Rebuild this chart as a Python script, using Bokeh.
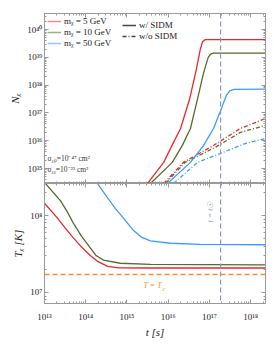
import numpy as np
from bokeh.plotting import figure
from bokeh.layouts import column
from bokeh.models import (FixedTicker, CustomJSTickFormatter, Legend, LegendItem,
                          Span, Label, Range1d, LogAxis)
from bokeh.embed import file_html
from bokeh.resources import INLINE

# ---------------- data (log10 values) ----------------
# Top panel: number of captured DM particles N_chi vs t
lt_red_sidm = [15.50, 15.89, 16.10, 16.30, 16.52, 16.68, 16.78, 16.83, 16.90, 18.36]
lN_red_sidm = [34.46, 35.22, 35.85, 36.44, 37.50, 38.55, 39.30, 39.55, 39.64, 39.64]
lt_grn_sidm = [15.57, 16.10, 16.35, 16.54, 16.71, 16.86, 16.97, 17.03, 17.10, 18.36]
lN_grn_sidm = [34.46, 35.22, 35.85, 36.44, 37.50, 38.45, 39.00, 39.12, 39.15, 39.15]
lt_blu_sidm = [15.98, 16.54, 16.86, 17.10, 17.30, 17.41, 17.50, 17.60, 18.36]
lN_blu_sidm = [34.46, 35.22, 35.83, 36.44, 37.20, 37.63, 37.80, 37.85, 37.86]

lt_red_nos = [15.89, 16.37, 17.10, 17.75, 18.36]
lN_red_nos = [34.46, 35.22, 35.83, 36.44, 36.80]
lt_grn_nos = [15.93, 16.41, 17.14, 17.75, 18.36]
lN_grn_nos = [34.46, 35.22, 35.76, 36.30, 36.55]
lt_blu_nos = [16.13, 16.71, 17.26, 17.87, 18.36]
lN_blu_nos = [34.46, 35.22, 35.54, 35.90, 36.08]

# Bottom panel: DM temperature T_chi vs t
lt_red_T = [13.00, 13.31, 13.50, 13.70, 13.90, 14.11, 14.30, 14.53, 14.80, 15.57, 18.36]
lT_red_T = [8.16, 7.97, 7.84, 7.71, 7.59, 7.48, 7.40, 7.34, 7.32, 7.318, 7.318]
lt_grn_T = [13.00, 13.39, 13.55, 13.70, 13.90, 14.11, 14.25, 14.43, 14.84, 15.57, 18.36]
lT_grn_T = [8.43, 8.19, 8.05, 7.90, 7.73, 7.58, 7.48, 7.42, 7.38, 7.365, 7.36]
lt_blu_T = [14.25, 14.28, 14.53, 14.72, 14.91, 15.15, 15.35, 15.57, 16.05, 16.78, 18.36]
lT_blu_T = [8.45, 8.42, 8.23, 8.09, 7.97, 7.81, 7.72, 7.67, 7.64, 7.625, 7.62]

t_sun = 10 ** 17.27      # t = t_sun
T_c = 10 ** 7.234        # T = T_c

masses = ["5", "10", "50"]
colors = ["#e8282c", "#566b2c", "#3b9cff"]
ORANGE = "#ff8a2a"
SPANC = "#8e99ad"
AXC = "#9a9a9a"
SERIF = "Liberation Serif"

X0, X1 = 1e13, 10 ** 18.36


def sup_fmt():
    return CustomJSTickFormatter(code="""
const m = {'0':'\u2070','1':'\u00b9','2':'\u00b2','3':'\u00b3','4':'\u2074','5':'\u2075','6':'\u2076','7':'\u2077','8':'\u2078','9':'\u2079','-':'\u207b'};
const e = Math.round(Math.log10(tick));
return '10' + String(e).split('').map(c => m[c]).join('');
""")


def blank_fmt():
    return CustomJSTickFormatter(code="return '';")


def log_ticker(lo, hi):
    major = [10.0 ** k for k in range(lo, hi + 1)]
    minor = [m * 10.0 ** k for k in range(lo - 1, hi + 1) for m in range(2, 10)]
    return FixedTicker(ticks=major, minor_ticks=minor)


def style_axis(ax, labels=True):
    ax.axis_line_color = AXC
    ax.major_tick_line_color = AXC
    ax.minor_tick_line_color = AXC
    ax.major_tick_in = 4
    ax.major_tick_out = 0
    ax.minor_tick_in = 2
    ax.minor_tick_out = 0
    ax.major_label_text_font = SERIF
    ax.major_label_text_font_size = "9px"
    ax.major_label_text_color = "#222222"
    ax.major_label_standoff = 2
    ax.axis_label_text_font = SERIF
    ax.axis_label_text_font_size = "11px"
    ax.axis_label_text_font_style = "italic"
    ax.axis_label_text_color = "#222222"
    if not labels:
        ax.formatter = blank_fmt()
        ax.major_label_standoff = 0


def make_fig(ylo, yhi, fh, ytk, xlabels, ylabel, xlabel, mb_bottom, mb_top):
    p = figure(frame_width=221, frame_height=fh, x_axis_type="log", y_axis_type="log",
               x_range=Range1d(X0, X1), y_range=Range1d(ylo, yhi),
               output_backend="svg", toolbar_location=None,
               min_border_left=44, min_border_right=7,
               min_border_top=mb_top, min_border_bottom=mb_bottom,
               background_fill_color="white", border_fill_color="white")
    p.grid.visible = False
    p.outline_line_color = AXC
    yax = p.yaxis[0]
    xax = p.xaxis[0]
    xax.ticker = log_ticker(13, 18)
    yax.ticker = ytk
    style_axis(yax)
    yax.formatter = sup_fmt()
    yax.axis_label = ylabel
    yax.axis_label_standoff = 3
    style_axis(xax, labels=xlabels)
    if xlabels:
        xax.formatter = sup_fmt()
        xax.major_label_standoff = 8
        xax.axis_label = xlabel
        xax.axis_label_standoff = 1
    r = LogAxis(ticker=ytk)
    style_axis(r, labels=False)
    p.add_layout(r, "right")
    a = LogAxis(ticker=log_ticker(13, 18))
    style_axis(a, labels=False)
    p.add_layout(a, "above")
    return p


# ---------------- top panel ----------------
top = make_fig(10 ** 34.46, 10 ** 40.58, 170, log_ticker(35, 40), False,
               "N\u1d6a", None, 0, 13)

sidm_data = [(lt_red_sidm, lN_red_sidm), (lt_grn_sidm, lN_grn_sidm), (lt_blu_sidm, lN_blu_sidm)]
nos_data = [(lt_red_nos, lN_red_nos), (lt_grn_nos, lN_grn_nos), (lt_blu_nos, lN_blu_nos)]
mass_items = []
for (lt, ln), (lt2, ln2), c, m in zip(sidm_data, nos_data, colors, masses):
    top.line(10 ** np.array(lt), 10 ** np.array(ln), line_color=c, line_width=1.3)
    top.line(10 ** np.array(lt2), 10 ** np.array(ln2), line_color=c, line_width=1.3,
             line_dash="4 2 1 2")
    # legend-only swatch (outside the visible range), drawn paler like the original
    sw = top.line([1e10, 1e11], [1e30, 1e30], line_color=c, line_width=1.5, line_alpha=0.55)
    mass_items.append(LegendItem(label=f"m\u1d6a = {m} GeV", renderers=[sw]))

top.add_layout(Span(location=t_sun, dimension="height", line_color=SPANC,
                    line_dash="5 3", line_width=1.2))

# legend-only line styles (drawn outside the visible range)
d1 = top.line([1e10, 1e11], [1e30, 1e30], line_color="#444444", line_width=1.5)
d2 = top.line([1e10, 1e11], [1e30, 1e30], line_color="#444444", line_width=1.3,
              line_dash="4 2 1 2")

leg1 = Legend(items=mass_items, location="top_left")
leg2 = Legend(items=[LegendItem(label="w/ SIDM", renderers=[d1]),
                     LegendItem(label="w/o SIDM", renderers=[d2])],
              location=(76, 140))
for lg in (leg1, leg2):
    lg.background_fill_alpha = 0
    lg.border_line_alpha = 0
    lg.label_text_font = SERIF
    lg.label_text_font_size = "9px"
    lg.label_text_color = "#222222"
    lg.glyph_width = 14
    lg.glyph_height = 10
    lg.label_height = 10
    lg.label_standoff = 3
    lg.spacing = 1
    lg.padding = 2
    lg.margin = 1
    top.add_layout(lg, "center")

top.add_layout(Label(x=3, y=21, x_units="screen", y_units="screen",
                     text="\u03c3\u1d6a\u209a=10\u207b\u2074\u2077 cm\u00b2",
                     text_font=SERIF, text_font_size="7.5px", text_color="#333333"))
top.add_layout(Label(x=3, y=10, x_units="screen", y_units="screen",
                     text="\u03c3\u1d6a\u1d6a=10\u207b\u00b2\u00b3 cm\u00b2",
                     text_font=SERIF, text_font_size="7.5px", text_color="#333333"))

# ---------------- bottom panel ----------------
bot = make_fig(10 ** 6.857, 10 ** 8.416, 120, log_ticker(7, 8), True,
               "T\u1d6a [K]", "t [s]", 36, 0)

for lt, lT, c in zip([lt_red_T, lt_grn_T, lt_blu_T], [lT_red_T, lT_grn_T, lT_blu_T], colors):
    bot.line(10 ** np.array(lt), 10 ** np.array(lT), line_color=c, line_width=1.3)

bot.add_layout(Span(location=T_c, dimension="width", line_color=ORANGE,
                    line_dash="5 3", line_width=1.3))
bot.add_layout(Span(location=t_sun, dimension="height", line_color=SPANC,
                    line_dash="5 3", line_width=1.2))

bot.add_layout(Label(x=10 ** 15.40, y=10 ** 7.03, text="T = T",
                     text_font=SERIF, text_font_size="8px", text_font_style="italic",
                     text_color=ORANGE))
bot.add_layout(Label(x=10 ** 15.87, y=10 ** 7.00, text="c",
                     text_font=SERIF, text_font_size="6px", text_font_style="italic",
                     text_color=ORANGE))
bot.add_layout(Label(x=10 ** 17.13, y=10 ** 7.91, text="t = t\u2609", angle=np.pi / 2,
                     text_font=SERIF, text_font_size="8px", text_font_style="italic",
                     text_color=SPANC, text_align="left", text_baseline="bottom"))

p = column(top, bot, spacing=0)
open("out.html", "w").write(file_html(p, INLINE))
